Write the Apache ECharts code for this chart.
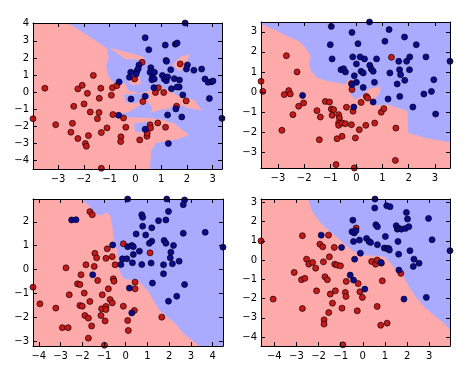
<!DOCTYPE html>
<html><head><meta charset="utf-8">
<script src="https://cdn.jsdelivr.net/npm/echarts@6/dist/echarts.min.js"></script>
<style>html,body{margin:0;padding:0;background:#fff}#c{width:474px;height:368px}</style>
</head><body><div id="c"></div>
<script>
// ---------- Data ----------
// Subplot 1
const s1XTicks = [-3,-2,-1,0,1,2,3];
const s1YTicks = [-4,-3,-2,-1,0,1,2,3,4];
const s1XRange = [-3.97, 3.36];
const s1YRange = [-4.49, 4.04];
const s1Blue = [[0.38,3.18],[0.52,2.48],[1.16,2.75],[1.55,2.8],[1.62,2.87],[1.93,4.04],[1.19,1.85],[1.21,1.8],[0.14,1.59],[-0.18,1.16],[-0.23,0.87],[0.06,1.24],[0.11,1.37],[0.03,1.06],[0.6,1.43],[0.57,1.16],[0.74,1.16],[0.66,0.87],[0.64,0.73],[0.73,0.77],[1.37,1.31],[1.05,0.98],[1.12,0.77],[1.2,0.67],[1.25,0.89],[1.51,0.79],[1.71,0.71],[1.7,0.3],[1.62,0.3],[1.4,0.2],[2.02,1.59],[1.98,1.35],[2.27,1.28],[2.57,1.35],[2.7,0.77],[2.82,0.58],[2.94,0.6],[3.01,0.65],[2.87,-0.37],[-0.17,-0.4],[0.38,-0.24],[0.72,0.26],[1.84,-0.16],[1.57,-0.98],[1.25,-1.33],[1.8,-1.45],[-0.63,0.6],[-0.65,-1.35],[0.38,-2.17],[1.28,-3.0],[3.36,-1.53]];
const s1Red = [[-3.51,0.23],[-3.97,-1.55],[-3.09,-1.9],[-2.5,-2.34],[-2.44,-1.82],[-2.39,-0.83],[-2.23,0.19],[-2.06,0.4],[-1.86,-0.07],[-1.99,-0.69],[-2.23,-2.71],[-1.94,-3.0],[-1.9,-3.16],[-1.82,-2.54],[-1.75,-1.16],[-1.63,0.98],[-1.34,0.23],[-1.4,-0.36],[-1.41,-1.19],[-1.47,-1.55],[-1.32,-2.36],[-1.1,-2.09],[-1.32,-4.45],[-0.89,0.26],[-0.93,-0.18],[-0.87,-1.31],[-0.72,0.38],[-0.46,-1.51],[-0.37,-2.05],[-0.56,-2.61],[-0.57,-2.89],[-0.03,0.77],[0.26,1.74],[0.29,-0.55],[0.17,-2.79],[0.45,-2.58],[0.46,-2.4],[0.57,-1.91],[0.59,-2.09],[0.87,-1.8],[1.17,-2.05],[0.89,0.26],[0.78,-0.02],[1.1,-0.02],[1.74,1.65],[1.97,-0.51],[1.6,-0.82]];
const s1RedRegion = [[-4.05,4.1],[-2.7,4.1],[-1.8,3.25],[-1.1,2.55],[-1.05,1.9],[-1.15,1.6],[-1.05,0.9],[-0.85,0.55],[-0.4,0.5],[-0.3,0.1],[0.2,-0.1],[0.6,0.1],[0.85,0.45],[1.1,0.2],[1.35,0.05],[1.6,-0.2],[2.0,-0.35],[2.3,-0.5],[2.55,-1.05],[2.0,-0.9],[1.7,-0.7],[1.45,-0.75],[1.3,-0.95],[1.0,-1.0],[0.6,-1.2],[0.45,-1.5],[0.7,-1.55],[1.0,-1.6],[1.5,-1.85],[2.05,-2.5],[1.6,-2.75],[0.8,-2.95],[0.6,-3.4],[0.55,-4.6],[-4.05,-4.6]];
const s1BluePockets = [
  [[-0.45,-0.15],[0.15,-0.1],[0.55,-0.2],[0.5,-0.4],[0.2,-0.4],[0.05,-0.65],[-0.35,-0.6]],
  [[-0.8,-1.3],[-0.3,-1.2],[0.0,-0.95],[0.2,-0.75],[0.5,-0.6],[0.65,-0.9],[0.6,-1.2],[0.45,-1.5],[-0.2,-1.45],[-0.8,-1.4]],
  [[-0.05,-1.85],[0.45,-1.75],[0.5,-2.1],[0.3,-2.35],[0.0,-2.3]]
];
const s1RedIslands = [
  [[-0.98,2.58],[0.3,2.05],[0.35,1.9],[-0.4,1.95]],
  [[-0.2,0.95],[0.15,0.95],[0.2,0.5],[-0.1,0.4],[-0.25,0.6]],
  [[1.45,1.6],[1.75,2.05],[2.08,2.2],[1.95,1.5],[1.7,1.25]]
];

// Subplot 2
const s2XTicks = [-3,-2,-1,0,1,2,3];
const s2YTicks = [-3,-2,-1,0,1,2,3];
const s2XRange = [-3.65, 3.58];
const s2YRange = [-3.79, 3.49];
const s2Blue = [[-0.96,3.27],[-0.17,2.97],[0.5,3.49],[1.25,3.11],[-1.0,2.36],[0.06,2.41],[1.09,2.53],[1.84,2.74],[2.29,2.36],[-0.93,1.65],[-0.14,1.75],[0.14,1.75],[0.31,1.65],[0.77,1.65],[0,1.4],[0.51,1.33],[0.57,1.15],[0.64,1.03],[-0.59,1.11],[-0.49,1.16],[-0.42,1.0],[0.18,1.03],[0.26,0.95],[1.28,0.95],[1.62,1.53],[1.92,1.53],[2.04,1.75],[2.03,1.11],[1.65,1.11],[1.69,0.86],[1.85,0.58],[2.66,1.75],[3.58,1.53],[-0.08,0.81],[0,0.48],[-0.17,0.37],[0.26,0.23],[0.69,0.48],[1.56,0.4],[2.96,0.61],[2.87,0.03],[2.58,-0.1],[1.66,-0.22],[1.21,-0.35],[2.16,-0.75],[3.03,-1.1],[0.64,-0.5],[-0.1,-0.75],[-2.06,-0.17]];
const s2Red = [[-3.65,0.53],[-3.58,0.03],[-2.68,1.81],[-2.27,1.0],[-2.76,-0.13],[-2.59,0.07],[-2.53,-0.1],[-2.21,-0.71],[-2.02,-0.55],[-2.43,-1.13],[-2.85,-1.91],[-1.51,-0.93],[-1.38,-1.25],[-1.19,-0.47],[-1.03,-0.5],[-0.96,-0.85],[-0.87,-0.88],[-0.93,-1.16],[-0.68,-1.13],[-0.65,-1.3],[-0.68,-1.55],[-0.68,-1.66],[-0.55,-1.55],[-0.42,-1.58],[-0.19,-1.63],[-0.55,-2.21],[-0.74,-2.33],[-1.42,-2.38],[-0.78,-3.62],[-0.08,-3.79],[-0.04,-2.29],[0.11,-1.88],[0.36,-1.66],[0.7,-1.55],[-0.38,-0.76],[-0.13,-0.96],[0.18,-0.52],[0.38,-0.22],[0.43,-0.3],[0.95,-1.01],[1.05,-0.83],[1.34,1.73],[1.51,-1.8],[1.49,-3.41],[-0.19,0.42],[-0.17,0.12]];
const s2RedRegion = [[-3.7,3.41],[-3.17,3.11],[-2.66,2.78],[-2.21,2.53],[-1.95,2.19],[-1.76,1.78],[-1.83,1.36],[-1.74,1.03],[-1.51,0.7],[-1.12,0.53],[-0.74,0.45],[-0.42,0.37],[-0.29,0.61],[-0.17,0.2],[-0.23,-0.13],[-0.04,-0.38],[0.22,-0.22],[0.47,0.15],[0.92,0.25],[0.88,-0.1],[0.62,-0.4],[0.55,-0.65],[0.73,-0.68],[1.17,-0.63],[1.94,-0.96],[1.97,-2.04],[2.58,-2.29],[3.65,-2.54],[3.65,-3.85],[-3.7,-3.85]];

// Subplot 3
const s3XTicks = [-4,-3,-2,-1,0,1,2,3,4];
const s3YTicks = [-3,-2,-1,0,1,2];
const s3XRange = [-4.27, 4.48];
const s3YRange = [-3.21, 2.96];
const s3Blue = [[-2.49,2.08],[-2.29,2.09],[0.09,2.96],[1.89,2.96],[2.71,2.92],[2.65,2.72],[0.74,2.3],[0.78,2.19],[1.51,2.05],[1.97,2.44],[1.85,2.08],[0.78,1.82],[1.2,1.75],[0.48,1.49],[0.92,1.45],[2.65,1.52],[3.66,1.56],[4.48,0.94],[1.2,1.19],[1.09,1.1],[1.77,1.22],[1.85,1.1],[2.2,1.01],[-0.6,1.03],[0.09,0.96],[0.28,1.01],[0.35,0.96],[0.63,0.77],[0.35,0.63],[-0.15,0.45],[0.05,0.45],[-0.22,0.21],[0.31,0.28],[0.74,0.21],[1.17,0.27],[2.08,0.73],[2.05,0.49],[2.15,0.24],[2.46,0.35],[1.74,0.2],[1.74,-0.18],[1.23,-0.57],[2.71,-0.63],[2.35,-1.12],[1.97,-1.33],[0.17,-0.78],[-1.52,-0.22],[0.28,-1.82]];
const s3Red = [[-4.27,-0.74],[-3.95,-1.44],[-3.22,-1.62],[-2.92,-2.44],[-2.65,-2.44],[-2.75,0.07],[-2.6,-1.06],[-2.22,-0.6],[-2.11,-0.63],[-2.06,-0.22],[-2.11,-1.51],[-2.0,-1.54],[-1.91,-0.99],[-1.88,-1.93],[-1.83,0.2],[-1.72,-2.04],[-1.72,-2.88],[-1.65,-1.34],[-1.65,2.43],[-1.54,2.3],[-1.57,-2.37],[-1.45,0.13],[-1.42,0.68],[-1.34,0.49],[-1.29,-0.46],[-1.08,-1.06],[-1.11,-1.65],[-1.14,-1.93],[-0.98,-3.18],[-0.91,-1.55],[-0.91,-1.68],[-0.95,-2.16],[-0.91,0.47],[-0.85,0.87],[-0.8,-0.81],[-0.72,-1.26],[-0.62,-1.4],[-0.57,-0.39],[-0.54,-0.49],[-0.49,0.2],[-0.62,0.54],[-0.11,-1.54],[-0.11,1.08],[0.09,-2.14],[0.12,-2.56],[0.4,-1.72],[0.43,-0.53],[0.43,-0.81],[1.12,0.7],[1.66,-2.0]];
const s3RedRegion = [[-4.3,2.99],[-2.03,2.99],[-1.57,2.54],[-1.34,2.3],[-1.11,2.26],[-0.91,2.4],[-0.72,2.26],[-0.6,1.63],[-0.57,1.15],[-0.42,0.87],[-0.34,0.45],[-0.34,0.03],[-0.11,-0.39],[0.28,-0.45],[0.55,-0.45],[0.7,-0.6],[0.97,-0.85],[1.15,-1.09],[1.35,-1.44],[1.55,-1.72],[1.82,-1.93],[2.28,-2.28],[2.66,-2.7],[3.05,-2.97],[3.43,-3.25],[-4.3,-3.25]];

// Subplot 4
const s4XTicks = [-4,-3,-2,-1,0,1,2,3];
const s4YTicks = [-4,-3,-2,-1,0,1,2,3];
const s4XRange = [-4.6, 3.94];
const s4YRange = [-4.47, 3.18];
const s4Blue = [[0.55,3.18],[1.08,2.83],[1.23,2.78],[0.54,2.71],[1.97,2.48],[2.02,2.14],[2.97,2.17],[-0.45,2.08],[0.59,1.84],[0.66,1.74],[1.51,1.79],[1.56,1.61],[1.63,1.65],[1.74,1.61],[1.93,1.65],[2.08,1.74],[-0.49,1.48],[-0.39,1.41],[-0.31,1.53],[-1.88,1.3],[-0.96,0.66],[-0.42,0.97],[-0.15,1.04],[0.17,1.13],[0.28,0.97],[0.35,0.92],[0.66,0.8],[1.02,1.23],[0.97,0.63],[1.08,0.61],[1.17,0.61],[1.2,0.52],[1.59,0.97],[1.62,0.31],[2.13,0.49],[2.31,0.05],[2.54,-0.16],[2.28,-0.33],[3.13,1.06],[3.94,0.49],[-0.11,0.36],[-0.37,0.05],[-0.57,-0.78],[-0.42,-1.04],[0.09,-1.51],[1.63,-0.52],[1.86,-2.03],[2.87,-1.94],[0.82,-0.12]];
const s4Red = [[-4.6,1.0],[-4.05,-2.03],[-3.1,-0.64],[-2.77,-1.02],[-2.62,-0.95],[-2.73,1.27],[-2.73,-2.52],[-2.54,0.05],[-2.44,-0.21],[-2.27,-0.12],[-2.13,-0.42],[-2.09,-1.6],[-1.94,0.83],[-1.81,0.69],[-1.55,1.3],[-1.78,-0.09],[-1.71,-0.87],[-1.6,-1.02],[-1.75,-3.11],[-1.75,-3.33],[-1.51,0.17],[-1.54,-2.73],[-1.47,-1.77],[-1.37,-2.24],[-1.29,0.66],[-1.27,-0.21],[-1.17,-0.26],[-1.24,-1.6],[-1.01,-0.3],[-0.94,-2.5],[-0.9,-4.41],[-0.79,-1.68],[-0.76,-1.89],[-0.75,-1.11],[-0.3,1.67],[-0.25,-2.64],[-0.21,-1.22],[-0.13,-1.65],[-0.02,-1.94],[0.4,-0.07],[0.58,-0.21],[0.65,0.0],[0.84,-0.16],[0.65,-2.41],[0.81,-3.39],[1.1,-3.28],[0.88,-1.08],[1.72,-0.69]];
const s4RedRegion = [[-4.7,3.25],[-2.5,3.25],[-2.31,2.57],[-2.0,2.05],[-1.63,1.61],[-1.17,1.18],[-0.79,0.78],[-0.41,0.43],[-0.03,0.23],[0.35,0.23],[0.96,0.17],[1.19,-0.07],[1.42,-0.42],[1.78,-0.75],[2.03,-1.3],[2.34,-1.86],[2.79,-2.47],[3.32,-2.99],[3.7,-3.33],[4.0,-3.77],[4.0,-4.5],[-4.7,-4.5]];

// ---------- Styling / layout ----------
const RED_BG = '#ffaaaa', BLUE_BG = '#aaaaff';
const RED_PT = '#c41a1a', BLUE_PT = '#0b0b8c';
const grids = [
  {left:33, top:23, width:189, height:146},
  {left:261, top:22, width:189, height:146},
  {left:33, top:199, width:190, height:147},
  {left:261, top:199, width:189, height:147}
];
const panels = [
  {xt:s1XTicks, yt:s1YTicks, xr:s1XRange, yr:s1YRange, blue:s1Blue, red:s1Red, redPolys:[s1RedRegion], bluePolys:s1BluePockets, redTop:s1RedIslands},
  {xt:s2XTicks, yt:s2YTicks, xr:s2XRange, yr:s2YRange, blue:s2Blue, red:s2Red, redPolys:[s2RedRegion], bluePolys:[], redTop:[]},
  {xt:s3XTicks, yt:s3YTicks, xr:s3XRange, yr:s3YRange, blue:s3Blue, red:s3Red, redPolys:[s3RedRegion], bluePolys:[], redTop:[]},
  {xt:s4XTicks, yt:s4YTicks, xr:s4XRange, yr:s4YRange, blue:s4Blue, red:s4Red, redPolys:[s4RedRegion], bluePolys:[], redTop:[]}
];
const fmt = v => (v < 0 ? '\u2212' : '') + Math.abs(v);
const lineStyle = {color:'#000', width:1};

const option = {animation:false, grid:[], xAxis:[], yAxis:[], series:[]};

function polySeries(i, poly, color, z) {
  return {
    type:'custom', xAxisIndex:2*i, yAxisIndex:2*i, clip:true, silent:true, z:z,
    data:[0],
    renderItem:(params, api) => ({
      type:'polygon',
      shape:{points: poly.map(p => api.coord(p))},
      style:{fill:color, stroke:color, lineWidth:0.5}
    })
  };
}

panels.forEach((p, i) => {
  option.grid.push(Object.assign({show:true, backgroundColor:BLUE_BG, borderWidth:0, containLabel:false}, grids[i]));
  const common = (pos, isX, range, ticks, showLabel) => ({
    type:'value', gridIndex:i, position:pos, min:range[0], max:range[1],
    axisLine:{show:true, onZero:false, lineStyle},
    axisTick:{show:true, inside:true, length:4, lineStyle, customValues:ticks},
    axisLabel:{show:showLabel, customValues:ticks, formatter:fmt, color:'#000', fontSize:10,
      fontFamily:'DejaVu Sans', margin:isX ? 5 : 4},
    splitLine:{show:false}, z:10
  });
  option.xAxis.push(common('bottom', true, p.xr, p.xt, true));
  option.xAxis.push(common('top', true, p.xr, p.xt, false));
  option.yAxis.push(common('left', false, p.yr, p.yt, true));
  option.yAxis.push(common('right', false, p.yr, p.yt, false));
  p.redPolys.forEach(poly => option.series.push(polySeries(i, poly, RED_BG, 1)));
  p.bluePolys.forEach(poly => option.series.push(polySeries(i, poly, BLUE_BG, 2)));
  p.redTop.forEach(poly => option.series.push(polySeries(i, poly, RED_BG, 3)));
  option.series.push({type:'scatter', xAxisIndex:2*i, yAxisIndex:2*i, data:p.red, symbolSize:6, z:5, silent:true,
    itemStyle:{color:RED_PT, borderColor:'#1a0000', borderWidth:0.7, opacity:1}});
  option.series.push({type:'scatter', xAxisIndex:2*i, yAxisIndex:2*i, data:p.blue, symbolSize:6, z:5, silent:true,
    itemStyle:{color:BLUE_PT, borderColor:'#000020', borderWidth:0.7, opacity:1}});
});

const chart = echarts.init(document.getElementById('c'), null, {renderer:'canvas'});
chart.setOption(option);
</script></body></html>
